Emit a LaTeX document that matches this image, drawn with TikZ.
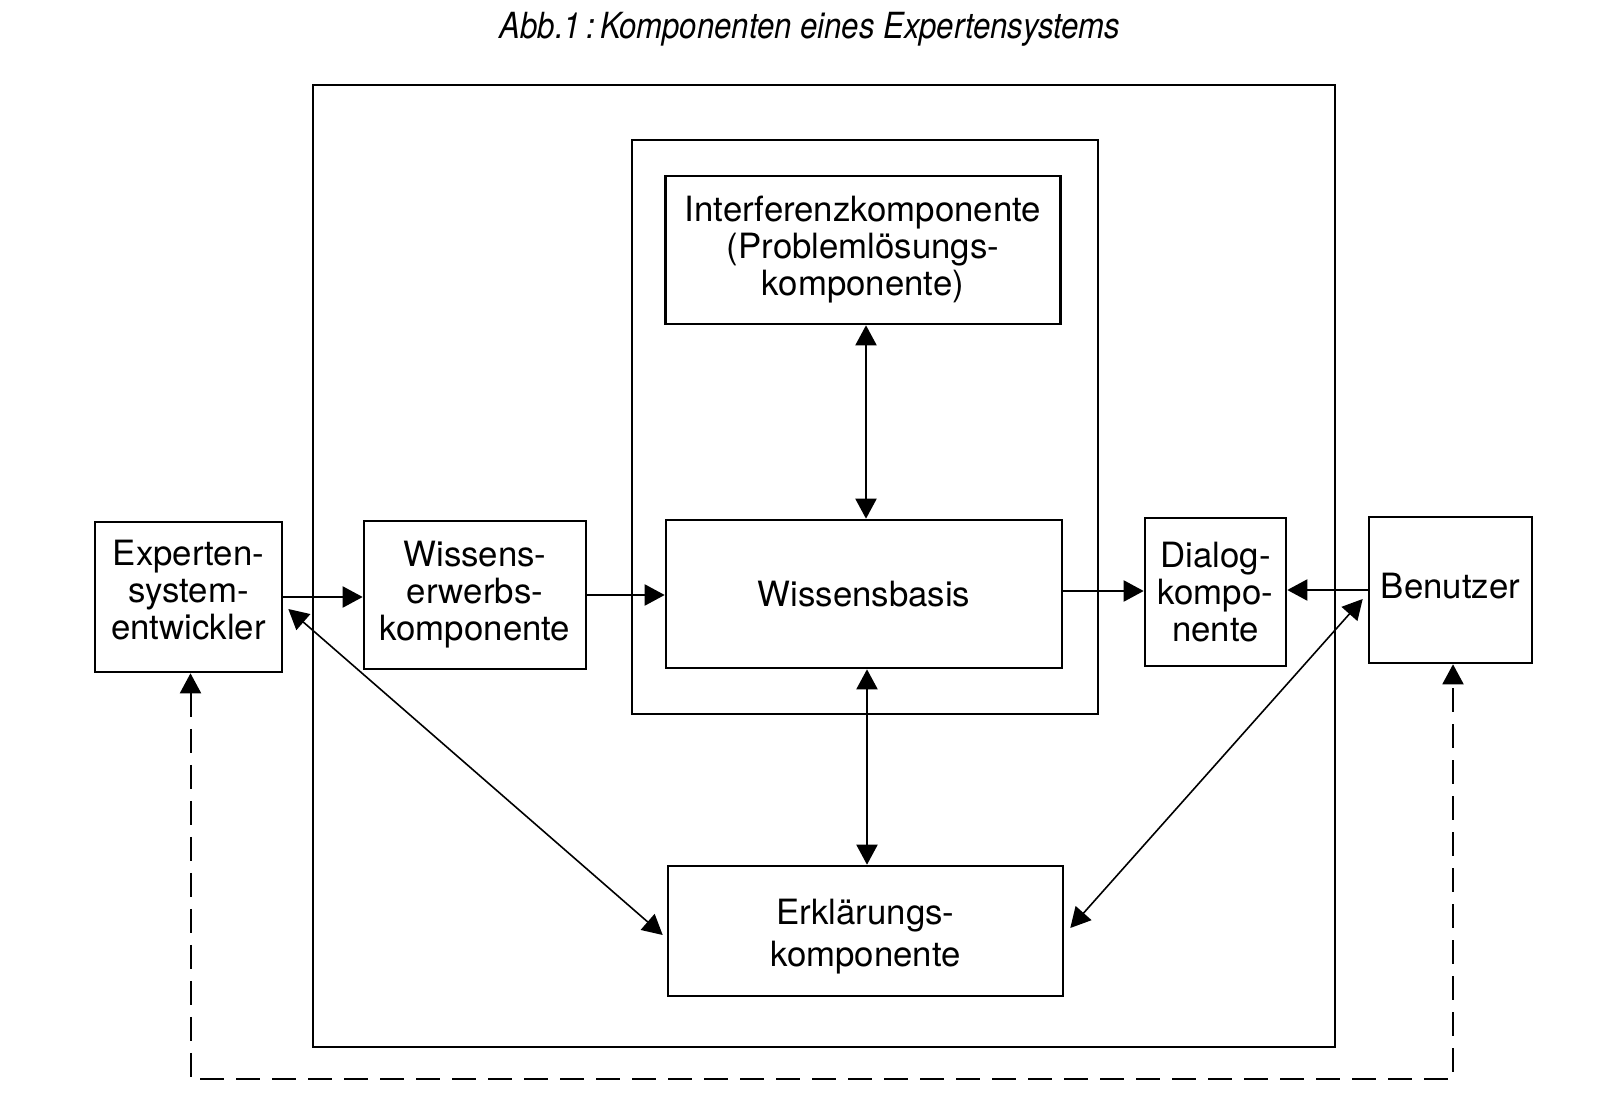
\documentclass[tikz,border=0pt]{standalone}
\usepackage{graphicx}
\usepackage{fontspec}
\setmainfont{TeX Gyre Heros}
\usetikzlibrary{arrows.meta,calc}
\begin{document}
\begin{tikzpicture}[x=0.5pt,y=-0.5pt,
  box/.style={draw, line width=1.3pt, align=center, inner sep=0pt,
    font=\fontsize{17.4}{18.5}\selectfont},
  frame/.style={draw, line width=1pt, inner sep=0pt},
  arr/.style={line width=1pt, -{Triangle[length=10pt,width=10.5pt]}},
  darr/.style={line width=1pt, {Triangle[length=10pt,width=10.5pt]}-{Triangle[length=10pt,width=10.5pt]}}]
\useasboundingbox (0,0) rectangle (1607,1118);
% title
\node (title) at (810,29) {\resizebox{310pt}{\height}{\fontsize{18}{20}\selectfont\itshape Abb.1\,:\,Komponenten eines Expertensystems}};
% frames
\node (outer) [frame, minimum width=511pt, minimum height=481pt] at (824,566) {};
\node (inner) [frame, minimum width=233pt, minimum height=287pt] at (865,427) {};
% boxes
\node (exp)  [box, text depth=7pt, minimum width=93.5pt, minimum height=75pt] at (188.5,597) {Experten-\\system-\\entwickler};
\node (werb) [box, minimum width=111pt, minimum height=74pt] at (475,595) {Wissens-\\erwerbs-\\komponente};
\node (int)  [box, minimum width=197.5pt, minimum height=74pt] at (863,250) {Interferenzkomponente\\(Problemlösungs-\\komponente)};
\node (wb)   [box, minimum width=198pt, minimum height=74pt] at (864,594) {Wissensbasis};
\node (dia)  [box, minimum width=70.5pt, minimum height=74pt] at (1215.5,592) {Dialog-\\kompo-\\nente};
\node (ben)  [box, text depth=4pt, minimum width=81.5pt, minimum height=73pt] at (1450.5,590) {Benutzer};
\node (erkl) [box, text height=39.5pt, minimum width=197.5pt, minimum height=65pt] at (865.5,931) {Erklärungs-\\[2.5pt]komponente};
% connectors
\draw[arr] (exp.east) -- (exp.east -| werb.west);
\draw[arr] (werb.east) -- (werb.east -| wb.west);
\draw[arr] ([yshift=1.5pt]wb.east) -- ([yshift=1.5pt]wb.east -| dia.west);
\draw[arr] (ben.west) -- (ben.west -| dia.east);
\draw[darr] ([xshift=1.5pt]int.south) -- ([xshift=1.5pt]int.south |- wb.north);
\draw[darr] ([xshift=1.5pt]wb.south) -- ([xshift=1.5pt]wb.south |- erkl.north);
\draw[darr, line width=0.8pt] ([xshift=2.5pt,yshift=-6pt]exp.east) -- ([xshift=-2pt,yshift=-2pt]erkl.west);
\draw[darr, line width=0.8pt] ([xshift=-2.5pt,yshift=-4.5pt]ben.west) -- ([xshift=3pt,yshift=1.5pt]erkl.east);
\coordinate (dl) at (190,1079);
\coordinate (dr) at (1453,1079);
\draw[darr, dash pattern=on 12pt off 6pt] ([xshift=1pt]exp.south) -- ([xshift=1pt]exp.south |- dl) -- (dr) -- (dr |- ben.south);
\end{tikzpicture}
\end{document}
